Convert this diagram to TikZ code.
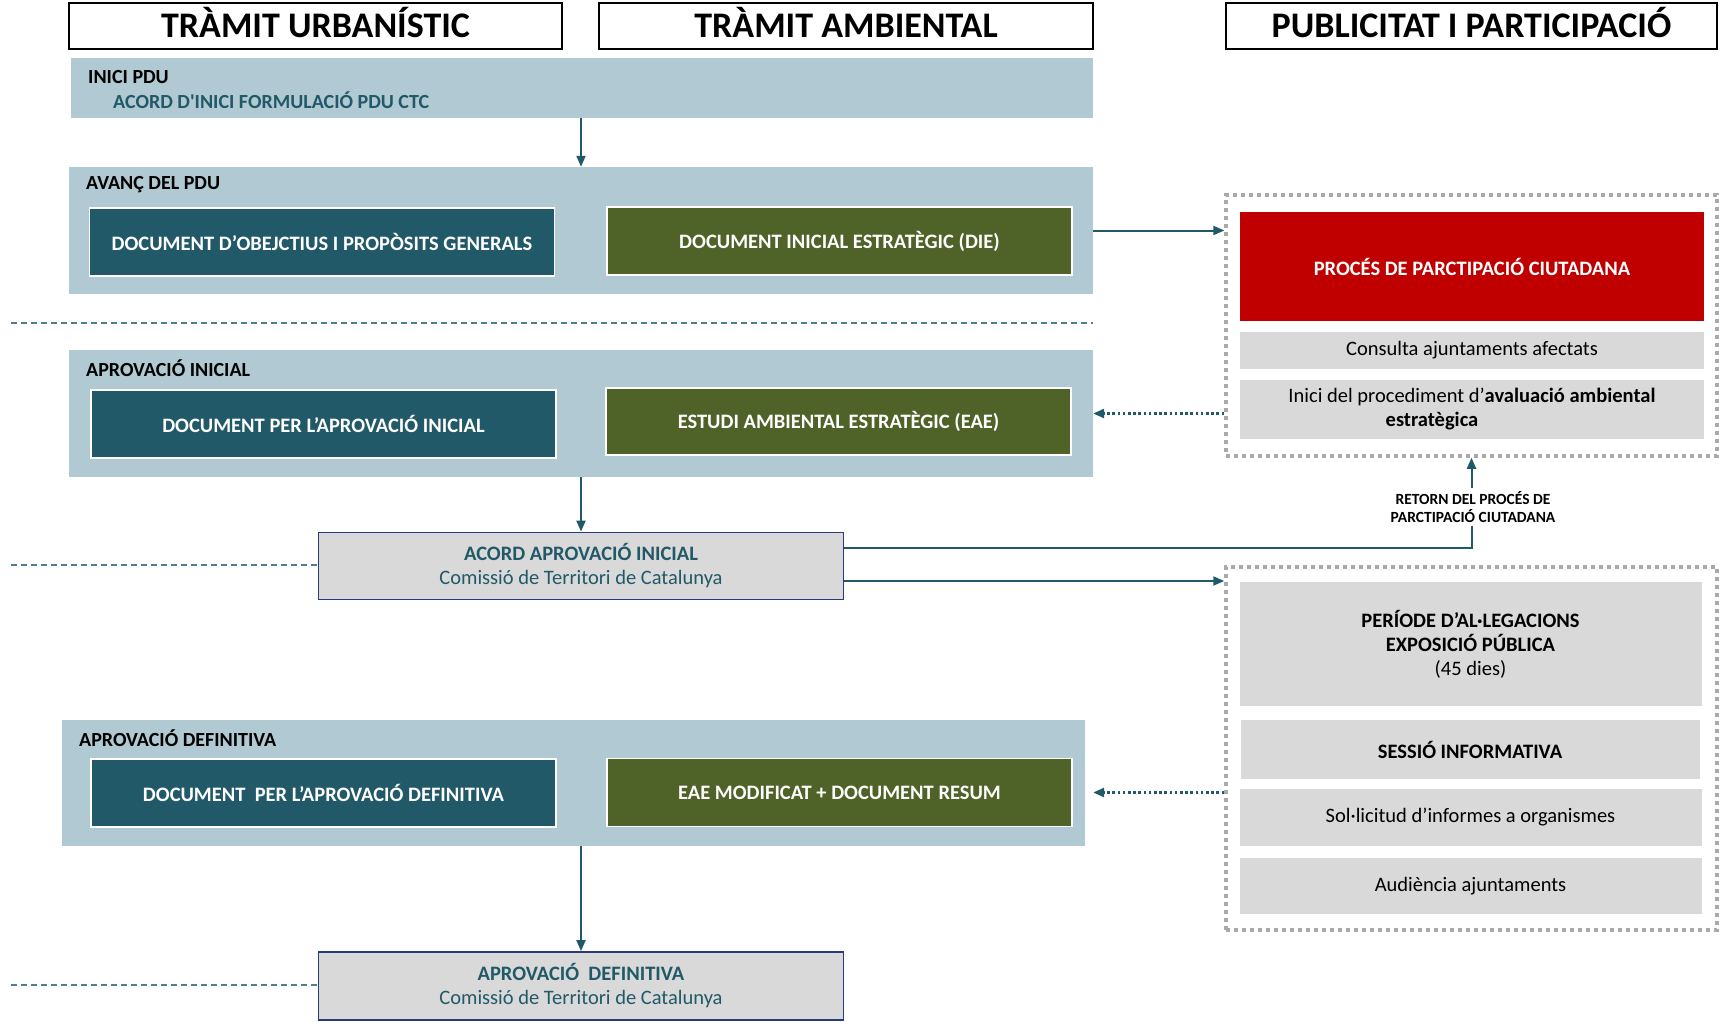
\documentclass[tikz,border=0pt]{standalone}
\usepackage{fontspec}
\setmainfont{Carlito}
\usetikzlibrary{arrows.meta,calc}
\definecolor{bandc}{HTML}{B1C9D2}
\definecolor{tealc}{HTML}{215968}
\definecolor{olivec}{HTML}{4F6228}
\definecolor{redc}{HTML}{C00000}
\definecolor{greyc}{HTML}{D9D9D9}
\definecolor{navyc}{HTML}{2B3A7A}
\definecolor{dotc}{HTML}{A9A9A9}
\definecolor{dashc}{HTML}{4E7F8F}
\begin{document}
\begin{tikzpicture}[x=1pt,y=-1pt,
  hdr/.style={draw=black, line width=2pt, fill=white, minimum height=46pt, inner sep=0pt, text height=23pt, text depth=0pt, font=\bfseries\fontsize{36}{36}\selectfont},
  bandbox/.style={fill=bandc, draw=none, inner sep=0pt},
  bandlbl/.style={anchor=west, inner sep=0pt, font=\bfseries\fontsize{20}{20}\selectfont},
  docbox/.style={draw=white, line width=1.5pt, text=white, inner sep=0pt, minimum width=465pt, minimum height=68pt, font=\bfseries\fontsize{20.5}{20.5}\selectfont},
  tealbox/.style={docbox, fill=tealc},
  olivebox/.style={docbox, fill=olivec},
  acordbox/.style={fill=greyc, draw=navyc, line width=1.8pt, text=tealc, align=center, inner sep=0pt, minimum width=525pt, minimum height=67pt, font=\fontsize{20.5}{24}\selectfont},
  rbox/.style={fill=greyc, draw=none, align=center, inner sep=0pt, minimum width=462pt, font=\fontsize{20.5}{24}\selectfont},
  dotbox/.style={draw=dotc, line width=3.5pt, dash pattern=on 4pt off 4pt, inner sep=0pt},
  arr/.style={draw=tealc, line width=2pt, -{Triangle[length=11pt,width=9pt]}},
  dotarr/.style={arr, line width=2.6pt, dash pattern=on 2.6pt off 2.6pt},
  dashln/.style={draw=dashc, line width=1.5pt, dash pattern=on 6pt off 4pt}
]
\useasboundingbox (0,0) rectangle (1719,1022);
% headers
\node[hdr, minimum width=493pt] (hurb) at (315.5,26) {TRÀMIT URBANÍSTIC};
\node[hdr, minimum width=494pt] (hamb) at (846,26) {TRÀMIT AMBIENTAL};
\node[hdr, minimum width=491pt] (hpub) at (1471.5,26) {PUBLICITAT I PARTICIPACIÓ};
% INICI
\node[bandbox, minimum width=1022pt, minimum height=60pt] (inici) at (582,88) {};
\node[bandlbl] (iniciL) at (88,77) {INICI PDU};
\node[bandlbl, text=tealc] (iniciA) at (113,100) {ACORD D{\addfontfeatures{Mapping=}'}INICI FORMULACIÓ PDU CTC};
% AVANÇ
\node[bandbox, minimum width=1024pt, minimum height=127pt] (avanc) at (581,230.5) {};
\node[bandlbl] (avancL) at (86,185) {AVANÇ DEL PDU};
\node[tealbox] (doc1) at (322,242) {DOCUMENT D’OBEJCTIUS I PROPÒSITS GENERALS};
\node[olivebox] (die) at (839.5,241) {DOCUMENT INICIAL ESTRATÈGIC (DIE)};
% APROVACIÓ INICIAL
\node[bandbox, minimum width=1024pt, minimum height=127pt] (apini) at (581,413.5) {};
\node[bandlbl] (apiniL) at (86,368) {APROVACIÓ INICIAL};
\node[tealbox] (doc2) at (323.5,424) {DOCUMENT PER L’APROVACIÓ INICIAL};
\node[olivebox, minimum height=67pt] (eae) at (838.5,421.5) {ESTUDI AMBIENTAL ESTRATÈGIC (EAE)};
\node[acordbox] (acord) at (581,566) {\bfseries ACORD APROVACIÓ INICIAL\\Comissió de Territori de Catalunya};
% APROVACIÓ DEFINITIVA
\node[bandbox, minimum width=1023pt, minimum height=126pt] (apdef) at (573.5,783) {};
\node[bandlbl] (apdefL) at (79,738) {APROVACIÓ DEFINITIVA};
\node[tealbox] (doc3) at (323.5,793) {DOCUMENT\ \ PER L’APROVACIÓ DEFINITIVA};
\node[olivebox] (eaem) at (839.5,792.5) {EAE MODIFICAT + DOCUMENT RESUM};
\node[acordbox, minimum height=68pt] (apdefb) at (581,986) {\bfseries APROVACIÓ\ \ DEFINITIVA\\Comissió de Territori de Catalunya};
% right column
\node[dotbox, minimum width=491pt, minimum height=261pt] (dot1) at (1471.5,325.5) {};
\node[rbox, fill=redc, text=white, minimum width=464pt, minimum height=109pt, font=\bfseries\fontsize{20.5}{24}\selectfont] (proc) at (1472,266.5) {PROCÉS DE PARCTIPACIÓ CIUTADANA};
\node[rbox, minimum width=464pt, minimum height=37pt] (cons) at (1472,350.5) {Consulta ajuntaments afectats};
\node[rbox, minimum width=464pt, minimum height=59pt] (iproc) at (1472,409.5) {Inici del procediment d’\textbf{avaluació ambiental}\\\textbf{estratègica}\hspace*{80pt}};
\node[dotbox, minimum width=491pt, minimum height=363pt] (dot2) at (1471.5,748.5) {};
\node[rbox, minimum height=124pt] (per) at (1470.5,644) {\textbf{PERÍODE D’AL·LEGACIONS}\\\textbf{EXPOSICIÓ PÚBLICA}\\(45 dies)};
\node[rbox, minimum width=459pt, minimum height=59pt, font=\bfseries\fontsize{20.5}{24}\selectfont] (ses) at (1470,749.5) {SESSIÓ INFORMATIVA};
\node[rbox, minimum height=57pt] (sol) at (1470.5,817.5) {Sol·licitud d’informes a organismes};
\node[rbox, minimum height=56pt] (aud) at (1470.5,886) {Audiència ajuntaments};
% connectors
\coordinate (acU) at ([yshift=18pt]acord.east);
\coordinate (acD) at ([yshift=-15pt]acord.east);
\draw[arr] (avanc.north |- inici.south) -- (avanc.north);
\draw[arr] (avanc.east) -- (dot1.west |- avanc.east);
\draw[dotarr] (dot1.west |- apini.east) -- (apini.east);
\draw[arr] (apini.south) -- (acord.north);
\draw[arr] (acU) -| (dot1.south);
\node[fill=white, align=center, inner sep=3pt, font=\bfseries\fontsize{15.5}{18}\selectfont] (retorn) at (1473,507) {RETORN DEL PROCÉS DE\\PARCTIPACIÓ CIUTADANA};
\draw[arr] (acD) -- (dot2.west |- acD);
\draw[dotarr] (dot2.west |- eaem.east) -- (apini.east |- eaem.east);
\draw[arr] (apdefb.north |- apdef.south) -- (apdefb.north);
% dashed separators
\coordinate (s1a) at (11,323);
\coordinate (s1b) at (1093,323);
\coordinate (s2a) at (11,565);
\coordinate (s3a) at (11,985);
\draw[dashln] (s1a) -- (s1b);
\draw[dashln] (s2a) -- (acord.west |- s2a);
\draw[dashln] (s3a) -- (apdefb.west |- s3a);
\end{tikzpicture}
\end{document}
